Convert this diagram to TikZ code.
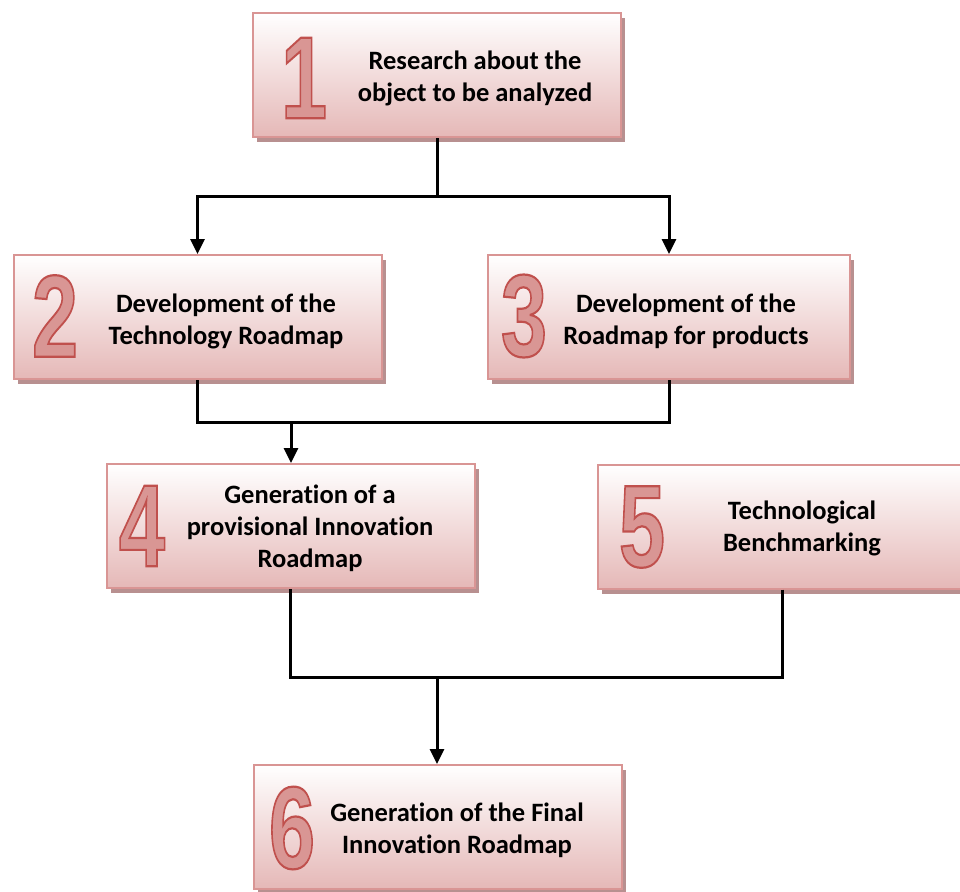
\documentclass[tikz,border=0pt]{standalone}
\usepackage{fontspec}
\setmainfont{Carlito}[Ligatures=NoCommon]
\newfontfamily\numfont{Liberation Sans}
\usetikzlibrary{arrows.meta,shadows}

\definecolor{boxline}{HTML}{D99594}
\definecolor{boxfill}{HTML}{E5B8B7}
\definecolor{boxshadow}{HTML}{B89090}
\definecolor{numfill}{HTML}{D99694}
\definecolor{numline}{HTML}{C0504D}

\tikzset{
  stepbox/.style={rectangle, draw=boxline, line width=2pt, top color=white, bottom color=boxfill,
    minimum width=368pt, minimum height=124pt, inner sep=0pt,
    drop shadow={shadow xshift=4pt, shadow yshift=-5pt, fill=boxshadow, opacity=1}},
  steptext/.style={align=center, font=\bfseries\fontsize{26.5}{32}\selectfont},
  numtext/.style={inner sep=0pt, text=numfill, font=\numfont\bfseries\fontsize{117}{117}\selectfont},
  link/.style={line width=3pt},
}

% outlined digit: fill then stroke (text render mode 2)
\newcommand{\bignum}[1]{\scalebox{0.71}[1]{%
  \special{pdf:literal direct 0.753 0.314 0.302 RG 2 Tr 2.2 w}#1\special{pdf:literal direct 0 Tr}}}

\begin{document}
\begin{tikzpicture}[x=1pt, y=-1pt, >={Triangle[width=14pt,length=15pt]}]
\useasboundingbox (0,0) rectangle (960,891);

\path
(437,75)    node[stepbox] (b1) {}
(197.5,317) node[stepbox] (b2) {}
(669,317)   node[stepbox, minimum width=362pt] (b3) {}
(290.5,526) node[stepbox] (b4) {}
(782,526.5) node[stepbox] (b5) {}
(438,827)   node[stepbox] (b6) {};

\path
(304,78)  node[numtext] (n1) {\bignum{1}}
(55,316)  node[numtext] (n2) {\bignum{2}}
(524,316) node[numtext] (n3) {\bignum{3}}
(142,526) node[numtext] (n4) {\bignum{4}}
(642,527) node[numtext] (n5) {\bignum{5}}
(292,828) node[numtext] (n6) {\bignum{6}};

\path
(475,78.5) node[steptext] (t1) {Research about the\\object to be analyzed}
(226,321)  node[steptext] (t2) {Development of the\\Technology Roadmap}
(686,321)  node[steptext] (t3) {Development of the\\Roadmap for products}
(310,528)  node[steptext] (t4) {Generation of a\\provisional Innovation\\Roadmap}
(802,528)  node[steptext] (t5) {Technological\\Benchmarking}
(457,830)  node[steptext] (t6) {Generation of the Final\\Innovation Roadmap};

% connectors
\coordinate (j1) at (437,196);
\coordinate (j2) at (291,422);
\coordinate (j3) at (437,677);
\draw[link] (b1.south) -- (j1);
\draw[link,->] (j1) -| (b2.north);
\draw[link,->] (j1) -| (b3.north);
\draw[link] (b2.south) |- (j2);
\draw[link] (b3.south) |- (j2);
\draw[link,->] (j2) -- (j2 |- b4.north);
\draw[link] (b4.south) |- (j3);
\draw[link] (b5.south) |- (j3);
\draw[link,->] (j3) -- (j3 |- b6.north);
\end{tikzpicture}
\end{document}
